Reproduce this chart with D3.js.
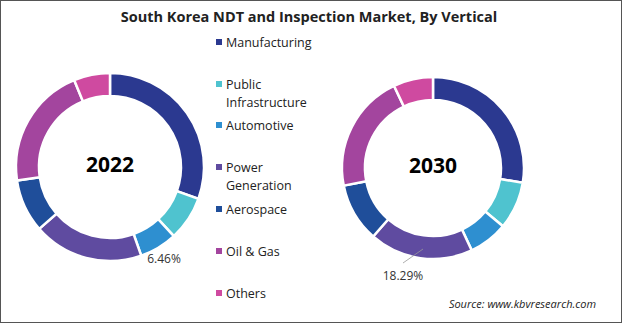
<!DOCTYPE html>
<html><head><meta charset="utf-8">
<script src="https://cdn.jsdelivr.net/npm/d3@7"></script>
<style>html,body{margin:0;padding:0;background:#fff;}svg{display:block;}</style>
</head><body>
<script>
const categories = ["Manufacturing","Public Infrastructure","Automotive","Power Generation","Aerospace","Oil & Gas","Others"];
const legendLines = [["Manufacturing"],["Public","Infrastructure"],["Automotive"],["Power","Generation"],["Aerospace"],["Oil & Gas"],["Others"]];
const values2022 = [30.4, 7.6, 6.46, 18.9, 9.1, 21.0, 6.2];
const values2030 = [27.4, 8.4, 6.9, 18.29, 10.4, 20.9, 7.0];
const colors = ["#2B3990","#4FC3CF","#2E8FD0","#5F4BA0","#1F4E9A","#A3459E","#CF4AA0"];
const years = ["2022","2030"];

const W = 622, H = 323;
const svg = d3.select("body").append("svg").attr("width", W).attr("height", H);
svg.append("rect").attr("x",0.5).attr("y",0.5).attr("width",W-1).attr("height",H-1)
  .attr("fill","#fff").attr("stroke","#555").attr("stroke-width",1);

svg.append("text").attr("x", 309).attr("y", 22).attr("text-anchor","middle")
  .attr("font-family","'Open Sans', sans-serif").attr("font-weight","bold").attr("font-size",14.5)
  .attr("fill","#222").text("South Korea NDT and Inspection Market, By Vertical");

const color = d3.scaleOrdinal().domain(categories).range(colors);
const pie = d3.pie().sort(null).value(d => d.v);

function donut(cx, cy, ro, ri, vals, year, labelIdx, labelPos, leader) {
  const g = svg.append("g").attr("transform", `translate(${cx},${cy})`);
  const arc = d3.arc().innerRadius(ri).outerRadius(ro);
  const data = pie(categories.map((c,i)=>({c, v: vals[i]})));
  g.selectAll("path").data(data).join("path")
    .attr("d", arc).attr("fill", d => color(d.data.c))
    .attr("stroke","#fff").attr("stroke-width",2.5);
  g.append("text").attr("x", 0).attr("y", -3).attr("text-anchor","middle").attr("dominant-baseline","central")
    .attr("font-family","'Open Sans', sans-serif").attr("font-weight","bold").attr("font-size",21)
    .attr("fill","#000").text(year);
  if (leader) {
    svg.append("line").attr("x1",leader[0]).attr("y1",leader[1]).attr("x2",leader[2]).attr("y2",leader[3])
      .attr("stroke","#999").attr("stroke-width",0.8);
  }
  svg.append("text").attr("x", labelPos[0]).attr("y", labelPos[1]).attr("text-anchor","middle")
    .attr("font-family","'Open Sans', sans-serif").attr("font-size",12).attr("fill","#333")
    .text(vals[labelIdx].toFixed(2) + "%");
}

donut(110, 167, 94, 71, values2022, years[0], 2, [164, 263], null);
donut(433, 168, 91, 68, values2030, years[1], 3, [403, 280], [423, 249, 403, 263]);

const legendY = [42, 84, 125, 167, 209, 251, 293];
const lg = svg.append("g");
categories.forEach((c,i) => {
  lg.append("rect").attr("x",216).attr("y",legendY[i]-3).attr("width",6).attr("height",6).attr("fill", color(c));
  legendLines[i].forEach((t,j) => {
    lg.append("text").attr("x",226).attr("y", legendY[i] + j*18).attr("dominant-baseline","central")
      .attr("font-family","'Open Sans', sans-serif").attr("font-size",12.5).attr("fill","#222").text(t);
  });
});

svg.append("text").attr("x", 596).attr("y", 308).attr("text-anchor","end")
  .attr("font-family","'Open Sans', sans-serif").attr("font-style","italic").attr("font-size",11)
  .attr("fill","#222").text("Source: www.kbvresearch.com");
</script>
</body></html>
